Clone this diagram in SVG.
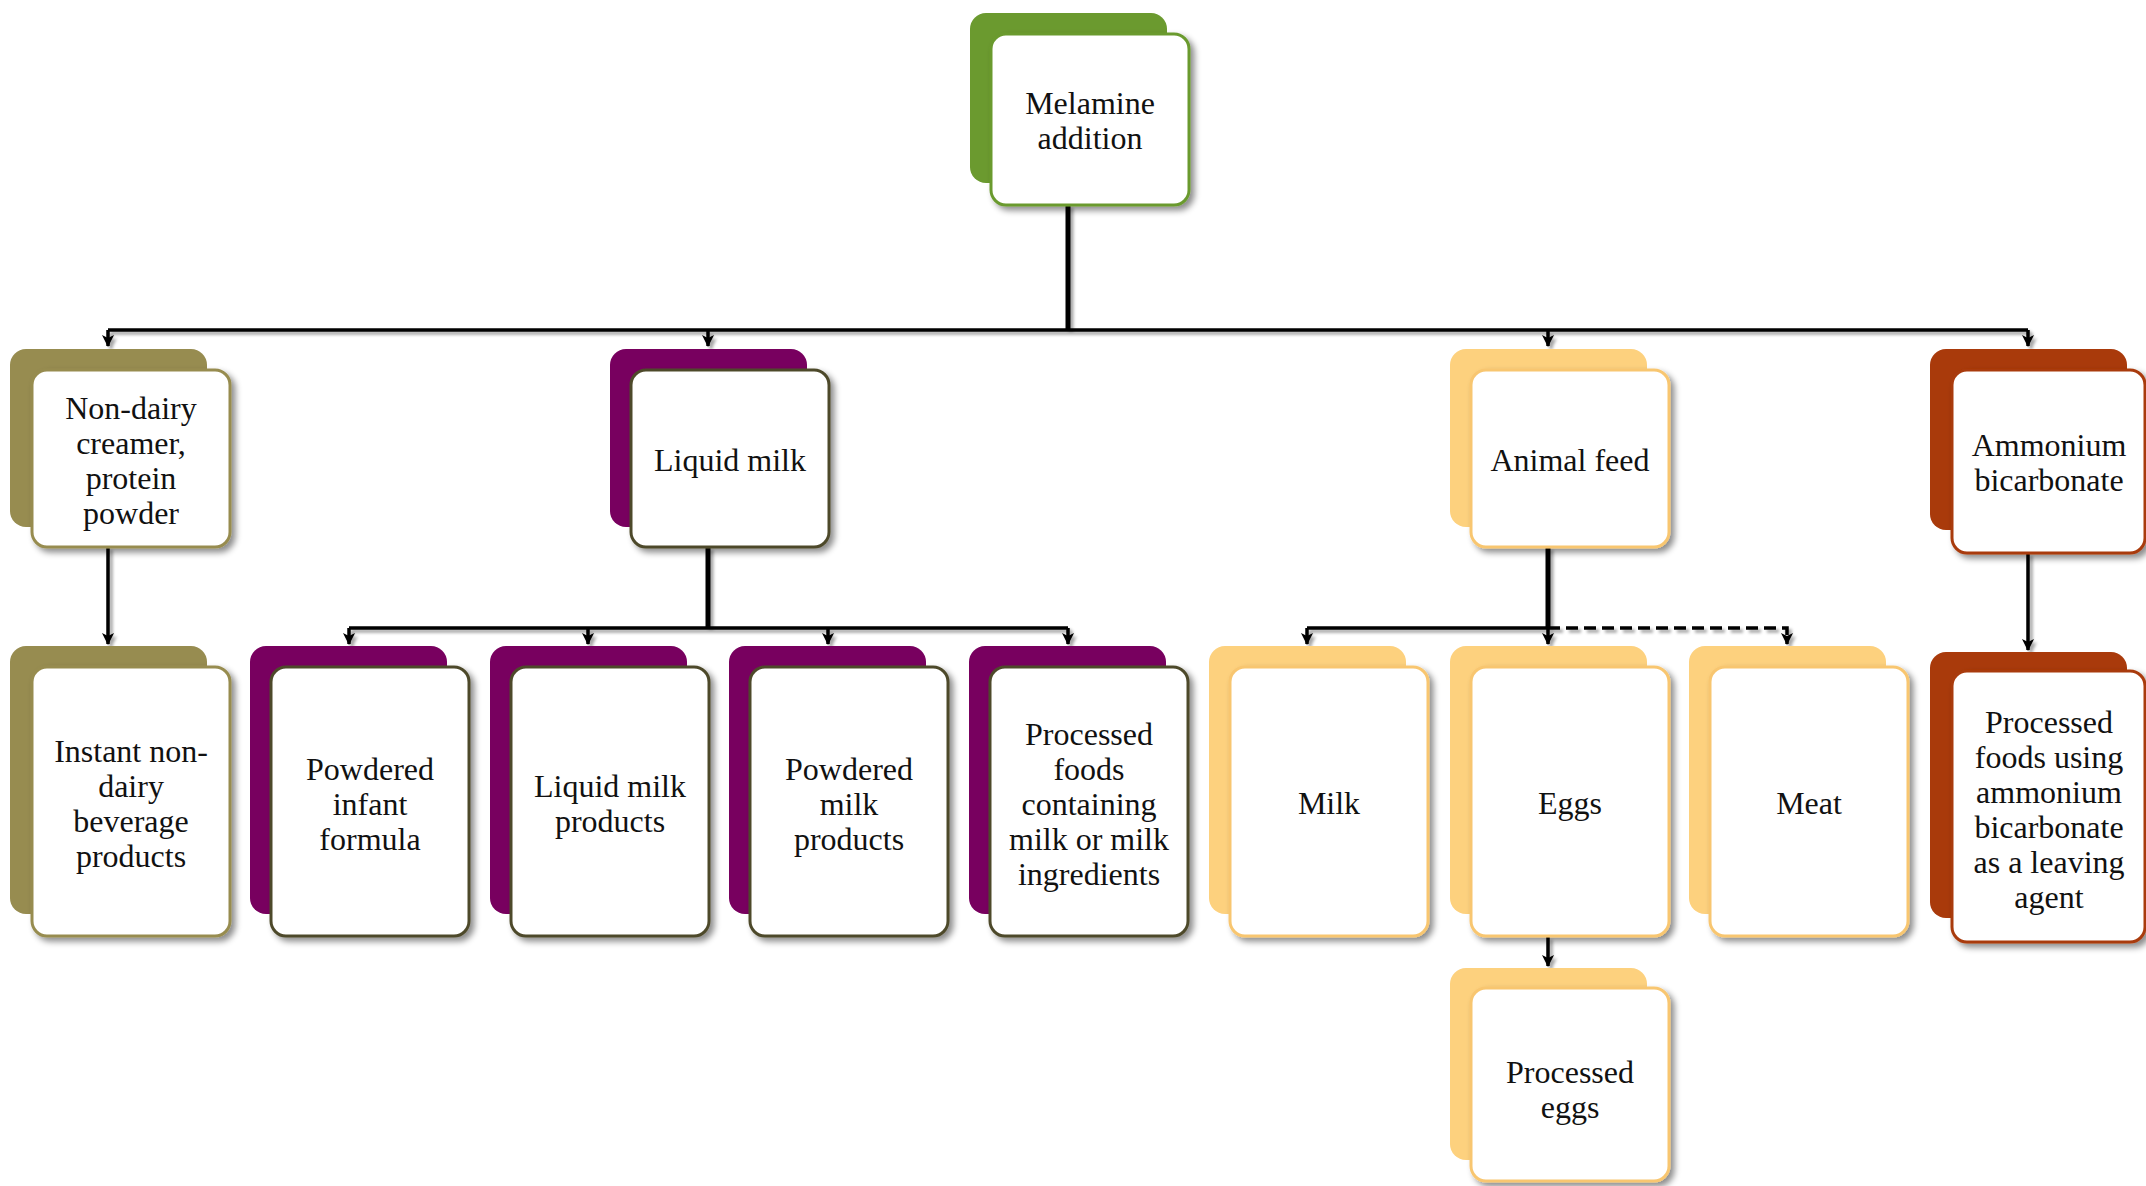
<svg xmlns="http://www.w3.org/2000/svg" width="2146" height="1186" viewBox="0 0 2146 1186">
  <defs>
    <filter id="cardShadow" x="-10%" y="-10%" width="130%" height="130%">
      <feDropShadow dx="4" dy="4" stdDeviation="3" flood-color="#000" flood-opacity="0.45"/>
    </filter>
    <filter id="lineShadow" x="-5%" y="-5%" width="110%" height="110%">
      <feDropShadow dx="3" dy="3" stdDeviation="1.5" flood-color="#000" flood-opacity="0.35"/>
    </filter>
    <marker id="arrow" viewBox="0 0 12 12" markerWidth="12" markerHeight="12" refX="11" refY="6" orient="auto" markerUnits="userSpaceOnUse">
      <path d="M0,0 L12,6 L0,12 L3,6 z" fill="#000"/>
    </marker>
  </defs>
  <style>
    .front { fill: #fff; stroke-width: 3; filter: url(#cardShadow); }
    .lbl { font-family: "Liberation Serif", "Times New Roman", serif; font-size: 32px; fill: #111; text-anchor: middle; }
    .conn { fill: none; stroke: #000; stroke-width: 3.5; }
    .trunk { stroke-width: 5; }
    .dash { stroke-dasharray: 12 6; }
    .green .back { fill: #6b9a2f; } .green .front { stroke: #6b9a2f; }
    .olive .back { fill: #978c50; } .olive .front { stroke: #978c50; }
    .purple .back { fill: #78005f; } .purple .front { stroke: #4e4a2b; }
    .gold .back { fill: #fdd17e; } .gold .front { stroke: #f8c670; }
    .rust .back { fill: #a93a0b; } .rust .front { stroke: #a93a0b; }
  </style>

  <rect width="2146" height="1186" fill="#fff"/>

  <!-- connectors -->
  <g id="connectors" filter="url(#lineShadow)">
    <path class="conn trunk" d="M1068,205 V330"/>
    <path class="conn" d="M108,330 H2028"/>
    <path class="conn" d="M108,330 V346" marker-end="url(#arrow)"/>
    <path class="conn" d="M708,330 V346" marker-end="url(#arrow)"/>
    <path class="conn" d="M1548,330 V346" marker-end="url(#arrow)"/>
    <path class="conn" d="M2028,330 V346" marker-end="url(#arrow)"/>

    <path class="conn" d="M108,547 V644" marker-end="url(#arrow)"/>

    <path class="conn trunk" d="M708,547 V628"/>
    <path class="conn" d="M349,628 H1068"/>
    <path class="conn" d="M349,628 V644" marker-end="url(#arrow)"/>
    <path class="conn" d="M588,628 V644" marker-end="url(#arrow)"/>
    <path class="conn" d="M828,628 V644" marker-end="url(#arrow)"/>
    <path class="conn" d="M1068,628 V644" marker-end="url(#arrow)"/>

    <path class="conn trunk" d="M1548,547 V628"/>
    <path class="conn" d="M1307,628 H1548"/>
    <path class="conn" d="M1307,628 V644" marker-end="url(#arrow)"/>
    <path class="conn" d="M1548,628 V644" marker-end="url(#arrow)"/>
    <path class="conn dash" d="M1548,628 H1787 V644" marker-end="url(#arrow)"/>

    <path class="conn" d="M1548,937 V966" marker-end="url(#arrow)"/>

    <path class="conn" d="M2028,553 V650" marker-end="url(#arrow)"/>
  </g>

  <!-- top -->
  <g id="melamine" class="green">
    <rect class="back" x="970" y="13" width="197" height="170" rx="16"/>
    <rect class="front" x="991" y="34" width="198" height="171" rx="15"/>
    <text class="lbl" x="1090" y="114">Melamine</text>
    <text class="lbl" x="1090" y="149">addition</text>
  </g>

  <!-- second row -->
  <g id="nondairy" class="olive">
    <rect class="back" x="10" y="349" width="197" height="178" rx="16"/>
    <rect class="front" x="32" y="370" width="198" height="177" rx="15"/>
    <text class="lbl" x="131" y="419">Non-dairy</text>
    <text class="lbl" x="131" y="454">creamer,</text>
    <text class="lbl" x="131" y="489">protein</text>
    <text class="lbl" x="131" y="524">powder</text>
  </g>
  <g id="liquidmilk" class="purple">
    <rect class="back" x="610" y="349" width="197" height="178" rx="16"/>
    <rect class="front" x="631" y="370" width="198" height="177" rx="15"/>
    <text class="lbl" x="730" y="471">Liquid milk</text>
  </g>
  <g id="animalfeed" class="gold">
    <rect class="back" x="1450" y="349" width="197" height="178" rx="16"/>
    <rect class="front" x="1471" y="370" width="198" height="177" rx="15"/>
    <text class="lbl" x="1570" y="471">Animal feed</text>
  </g>
  <g id="ammonium" class="rust">
    <rect class="back" x="1930" y="349" width="197" height="181" rx="16"/>
    <rect class="front" x="1952" y="370" width="193" height="183" rx="15"/>
    <text class="lbl" x="2049" y="456">Ammonium</text>
    <text class="lbl" x="2049" y="491">bicarbonate</text>
  </g>

  <!-- third row -->
  <g id="instant" class="olive">
    <rect class="back" x="10" y="646" width="197" height="268" rx="16"/>
    <rect class="front" x="32" y="667" width="198" height="269" rx="15"/>
    <text class="lbl" x="131" y="762">Instant non-</text>
    <text class="lbl" x="131" y="797">dairy</text>
    <text class="lbl" x="131" y="832">beverage</text>
    <text class="lbl" x="131" y="867">products</text>
  </g>
  <g id="infantformula" class="purple">
    <rect class="back" x="250" y="646" width="197" height="268" rx="16"/>
    <rect class="front" x="271" y="667" width="198" height="269" rx="15"/>
    <text class="lbl" x="370" y="780">Powdered</text>
    <text class="lbl" x="370" y="815">infant</text>
    <text class="lbl" x="370" y="850">formula</text>
  </g>
  <g id="liquidproducts" class="purple">
    <rect class="back" x="490" y="646" width="197" height="268" rx="16"/>
    <rect class="front" x="511" y="667" width="198" height="269" rx="15"/>
    <text class="lbl" x="610" y="797">Liquid milk</text>
    <text class="lbl" x="610" y="832">products</text>
  </g>
  <g id="powderedproducts" class="purple">
    <rect class="back" x="729" y="646" width="197" height="268" rx="16"/>
    <rect class="front" x="750" y="667" width="198" height="269" rx="15"/>
    <text class="lbl" x="849" y="780">Powdered</text>
    <text class="lbl" x="849" y="815">milk</text>
    <text class="lbl" x="849" y="850">products</text>
  </g>
  <g id="processedmilk" class="purple">
    <rect class="back" x="969" y="646" width="197" height="268" rx="16"/>
    <rect class="front" x="990" y="667" width="198" height="269" rx="15"/>
    <text class="lbl" x="1089" y="745">Processed</text>
    <text class="lbl" x="1089" y="780">foods</text>
    <text class="lbl" x="1089" y="815">containing</text>
    <text class="lbl" x="1089" y="850">milk or milk</text>
    <text class="lbl" x="1089" y="885">ingredients</text>
  </g>
  <g id="milk" class="gold">
    <rect class="back" x="1209" y="646" width="197" height="268" rx="16"/>
    <rect class="front" x="1230" y="667" width="198" height="269" rx="15"/>
    <text class="lbl" x="1329" y="814">Milk</text>
  </g>
  <g id="eggs" class="gold">
    <rect class="back" x="1450" y="646" width="197" height="268" rx="16"/>
    <rect class="front" x="1471" y="667" width="198" height="269" rx="15"/>
    <text class="lbl" x="1570" y="814">Eggs</text>
  </g>
  <g id="meat" class="gold">
    <rect class="back" x="1689" y="646" width="197" height="268" rx="16"/>
    <rect class="front" x="1710" y="667" width="198" height="269" rx="15"/>
    <text class="lbl" x="1809" y="814">Meat</text>
  </g>
  <g id="leavening" class="rust">
    <rect class="back" x="1930" y="652" width="197" height="266" rx="16"/>
    <rect class="front" x="1952" y="671" width="193" height="271" rx="15"/>
    <text class="lbl" x="2049" y="733">Processed</text>
    <text class="lbl" x="2049" y="768">foods using</text>
    <text class="lbl" x="2049" y="803">ammonium</text>
    <text class="lbl" x="2049" y="838">bicarbonate</text>
    <text class="lbl" x="2049" y="873">as a leaving</text>
    <text class="lbl" x="2049" y="908">agent</text>
  </g>

  <!-- fourth row -->
  <g id="processedeggs" class="gold">
    <rect class="back" x="1450" y="968" width="197" height="192" rx="16"/>
    <rect class="front" x="1471" y="988" width="198" height="193" rx="15"/>
    <text class="lbl" x="1570" y="1083">Processed</text>
    <text class="lbl" x="1570" y="1118">eggs</text>
  </g>
</svg>
